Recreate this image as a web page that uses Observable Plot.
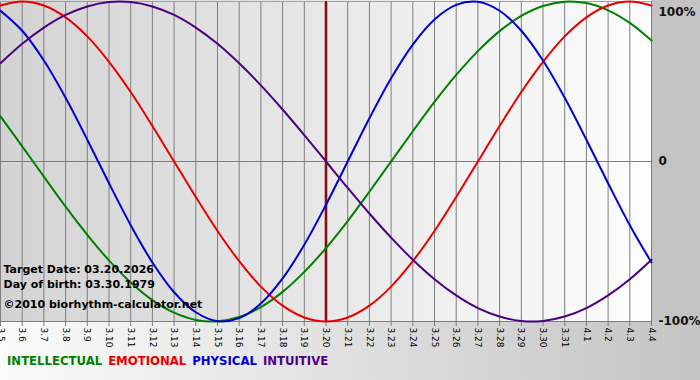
<!DOCTYPE html>
<html>
<head>
<meta charset="utf-8">
<script src="https://cdn.jsdelivr.net/npm/d3@7"></script>
<script src="https://cdn.jsdelivr.net/npm/@observablehq/plot@0.6"></script>
<style>
  html, body { margin: 0; padding: 0; }
  body {
    width: 700px; height: 380px; overflow: hidden;
    background: linear-gradient(to right, #fbfbfb, #c4c4c4);
    font-family: "DejaVu Sans", Verdana, sans-serif;
  }
  #chart svg { display: block; }
  #legend {
    padding: 9px 0 0 7px; font-size: 11.7px; font-weight: bold; line-height: 14px; white-space: nowrap;
  }
  #legend span { margin-right: 6px; }
</style>
</head>
<body>
<div id="chart"></div>
<div id="legend"></div>
<script>
// Day labels (x axis)
const dayLabels = ["3.5","3.6","3.7","3.8","3.9","3.10","3.11","3.12","3.13","3.14","3.15","3.16","3.17","3.18","3.19","3.20","3.21","3.22","3.23","3.24","3.25","3.26","3.27","3.28","3.29","3.30","3.31","4.1","4.2","4.3","4.4"];

// Series values in percent, one per day
const intellectual = [28.2, 9.5, -9.5, -28.2, -45.8, -61.8, -75.6, -86.6, -94.5, -99.0, -99.9, -97.2, -91.0, -81.5, -69.0, -54.1, -37.2, -18.9, 0, 18.9, 37.2, 54.1, 69.0, 81.5, 91.0, 97.2, 99.9, 99.0, 94.5, 86.6, 75.6];
const emotional = [97.5, 100, 97.5, 90.1, 78.2, 62.3, 43.4, 22.2, 0, -22.2, -43.4, -62.3, -78.2, -90.1, -97.5, -100, -97.5, -90.1, -78.2, -62.3, -43.4, -22.2, 0, 22.2, 43.4, 62.3, 78.2, 90.1, 97.5, 100, 97.5];
const physical = [94.2, 81.7, 63.1, 39.8, 13.6, -13.6, -39.8, -63.1, -81.7, -94.2, -99.8, -97.9, -88.8, -73.1, -52.0, -27.0, 0, 27.0, 52.0, 73.1, 88.8, 97.9, 99.8, 94.2, 81.7, 63.1, 39.8, 13.6, -13.6, -39.8, -63.1];
const intuitive = [61.4, 73.6, 83.7, 91.6, 96.9, 99.7, 99.7, 96.9, 91.6, 83.7, 73.6, 61.4, 47.6, 32.5, 16.5, 0, -16.5, -32.5, -47.6, -61.4, -73.6, -83.7, -91.6, -96.9, -99.7, -99.7, -96.9, -91.6, -83.7, -73.6, -61.4];

const seriesNames = ["INTELLECTUAL", "EMOTIONAL", "PHYSICAL", "INTUITIVE"];
const seriesColors = ["#008000", "#e80000", "#0000d0", "#4b0082"];
const seriesValues = [intellectual, emotional, physical, intuitive];

const targetDay = "3.20";
const infoLines = ["Target Date: 03.20.2026", "Day of birth: 03.30.1979", "©2010 biorhythm-calculator.net"];
const yTicks = [100, 0, -100];
const yTickLabels = ["100%", "0", "-100%"];

const dayIdx = dayLabels.map((_, i) => i);
const targetIdx = dayLabels.indexOf(targetDay);

const rows = [];
seriesNames.forEach((name, s) => {
  seriesValues[s].forEach((v, i) => rows.push({series: name, day: i, value: v}));
});

function background(index, scales, values, dims) {
  const {width, height, marginLeft, marginRight, marginTop, marginBottom} = dims;
  const g = d3.create("svg:g");
  const grad = g.append("defs").append("linearGradient")
    .attr("id", "plotbg").attr("x1", 0).attr("x2", 1).attr("y1", 0).attr("y2", 0);
  grad.append("stop").attr("offset", 0).attr("stop-color", "#d3d3d3");
  grad.append("stop").attr("offset", 1).attr("stop-color", "#fdfdfd");
  g.append("rect").attr("x", width - marginRight).attr("y", 0)
    .attr("width", marginRight).attr("height", height - marginBottom).attr("fill", "#c3c3c3");
  g.append("rect").attr("x", marginLeft).attr("y", 0)
    .attr("width", width - marginLeft - marginRight).attr("height", height - marginBottom)
    .attr("fill", "url(#plotbg)");
  return g.node();
}

const font = "DejaVu Sans, Verdana, sans-serif";

const chart = Plot.plot({
  width: 700,
  height: 345,
  marginLeft: 0,
  marginRight: 49,
  marginTop: 1,
  marginBottom: 24,
  style: {background: "transparent", fontFamily: font, overflow: "visible"},
  x: {domain: [0, dayLabels.length - 1], axis: null},
  y: {domain: [-100, 100], axis: null},
  color: {domain: seriesNames, range: seriesColors},
  marks: [
    background,
    Plot.ruleX(dayIdx, {x: d => d, y1: -100, y2: 100, stroke: "#7e7e7e", strokeWidth: 1, strokeOpacity: 1}),
    Plot.ruleY([0], {x1: 0, x2: dayLabels.length - 1, stroke: "#7e7e7e", strokeOpacity: 1}),
    Plot.ruleY([100], {stroke: "#a0a0a0", strokeOpacity: 1}),
    Plot.ruleY([-100], {stroke: "#7e7e7e", strokeOpacity: 1}),
    Plot.axisX({
      ticks: dayIdx, tickFormat: i => dayLabels[i], tickRotate: 90, tickSize: 5, tickPadding: 1,
      stroke: "#7e7e7e", fontSize: 9, fill: "#000", label: null
    }),
    Plot.ruleX([targetIdx], {y1: -100, y2: 100, stroke: "#d9a0a0", strokeWidth: 4, strokeOpacity: 1}),
    Plot.ruleX([targetIdx], {y1: -100, y2: 100, stroke: "#7a1414", strokeWidth: 2, strokeOpacity: 1}),
    Plot.line(rows, {x: "day", y: "value", z: "series", stroke: "series", strokeWidth: 2, curve: "catmull-rom"}),
    Plot.text([yTickLabels[0]], {frameAnchor: "top-right", dx: 7, dy: 6, textAnchor: "start", fontSize: 12, fontWeight: "bold", fill: "#111"}),
    Plot.text(yTicks.slice(1).map((v, i) => ({v, t: yTickLabels[i + 1]})), {
      x: dayLabels.length - 1, y: "v", text: "t", dx: 7, textAnchor: "start", fontSize: 12, fontWeight: "bold", fill: "#111"
    }),
    Plot.text([infoLines[0]], {frameAnchor: "bottom-left", dx: 3, dy: -49, textAnchor: "start", fontSize: 11, fontWeight: "bold", fill: "#000"}),
    Plot.text([infoLines[1]], {frameAnchor: "bottom-left", dx: 3, dy: -34, textAnchor: "start", fontSize: 11, fontWeight: "bold", fill: "#000"}),
    Plot.text([infoLines[2]], {frameAnchor: "bottom-left", dx: 3, dy: -14, textAnchor: "start", fontSize: 11, fontWeight: "bold", fill: "#000"})
  ]
});
document.getElementById("chart").appendChild(chart);

const legend = document.getElementById("legend");
seriesNames.forEach((n, i) => {
  const s = document.createElement("span");
  s.textContent = n;
  s.style.color = seriesColors[i];
  legend.appendChild(s);
});
</script>
</body>
</html>
